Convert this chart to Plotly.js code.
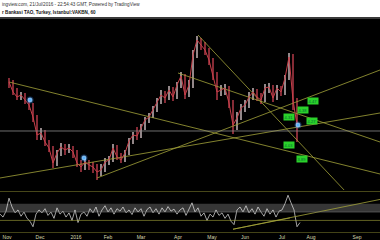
<!DOCTYPE html>
<html><head><meta charset="utf-8">
<script src="https://cdn.plot.ly/plotly-3.0.1.min.js"></script>
<style>html,body{margin:0;padding:0;background:#000;}#chart{width:380px;height:240px;}</style>
</head><body><div id="chart"></div>
<script>
// bar positions (bar index axis)
const barX = [9,13,17,21,25,29,33,37,41,45,49,53,57,61,65,69,73,77,81,85,89,93,97,101,105,109,113,117,121,125,129,133,137,141,145,149,153,157,161,165,169,173,177,181,185,189,193,197,201,205,209,213,217,221,225,229,233,237,241,245,249,253,257,261,265,269,273,277,281,285,289,293,297];
const openP = [4.68,4.66,4.56,4.51,4.53,4.48,4.43,4.31,4.13,4.15,4.06,4.00,3.85,3.95,4.01,3.98,4.00,3.96,3.85,3.81,3.86,3.83,3.81,3.76,3.78,3.86,3.88,4.00,3.91,3.88,3.95,4.07,4.13,4.12,4.20,4.28,4.31,4.38,4.46,4.53,4.50,4.58,4.51,4.63,4.72,4.53,4.63,4.93,5.08,5.03,4.98,4.88,4.73,4.56,4.58,4.60,4.45,4.23,4.30,4.40,4.43,4.51,4.56,4.51,4.48,4.60,4.61,4.50,4.60,4.56,4.70,4.91,4.48];
const closeP = [4.66,4.56,4.51,4.53,4.48,4.43,4.31,4.13,4.15,4.06,4.00,3.85,3.95,4.01,3.98,4.00,3.96,3.85,3.81,3.86,3.83,3.81,3.76,3.78,3.86,3.88,4.00,3.91,3.88,3.95,4.07,4.13,4.12,4.20,4.28,4.31,4.38,4.46,4.53,4.50,4.58,4.51,4.63,4.72,4.53,4.63,4.93,5.08,5.03,4.98,4.88,4.73,4.56,4.58,4.60,4.45,4.23,4.30,4.40,4.43,4.51,4.56,4.51,4.48,4.60,4.61,4.50,4.60,4.56,4.70,4.91,4.48,4.23];
const highP = [4.70,4.68,4.60,4.56,4.55,4.50,4.45,4.33,4.20,4.18,4.08,4.02,3.98,4.05,4.04,4.04,4.02,3.98,3.88,3.90,3.88,3.86,3.84,3.84,3.90,3.92,4.04,4.03,3.95,3.98,4.10,4.16,4.21,4.24,4.31,4.35,4.42,4.50,4.58,4.57,4.62,4.61,4.66,4.76,4.74,4.68,4.98,5.12,5.10,5.06,5.00,4.90,4.76,4.63,4.64,4.62,4.48,4.36,4.44,4.48,4.56,4.60,4.59,4.55,4.64,4.65,4.63,4.63,4.62,4.73,4.95,4.94,4.50];
const lowP = [4.60,4.53,4.48,4.48,4.44,4.38,4.26,4.08,4.08,4.02,3.96,3.80,3.82,3.92,3.93,3.95,3.90,3.81,3.76,3.78,3.78,3.75,3.68,3.72,3.76,3.83,3.86,3.88,3.85,3.86,3.93,4.04,4.08,4.10,4.18,4.25,4.30,4.36,4.44,4.45,4.48,4.47,4.49,4.60,4.49,4.51,4.60,4.90,4.98,4.93,4.83,4.68,4.48,4.52,4.53,4.40,4.14,4.18,4.28,4.36,4.40,4.48,4.47,4.44,4.46,4.55,4.46,4.48,4.52,4.53,4.68,4.38,4.06];

// RSI
const rsiX = [0,3,6,9,12,15,18,21,24,27,30,33,36,39,42,45,48,51,54,57,60,63,66,69,72,75,78,81,84,87,90,93,96,99,102,105,108,111,114,117,120,123,126,129,132,135,138,141,144,147,150,153,156,159,162,165,168,171,174,177,180,183,186,189,192,195,198,201,204,207,210,213,216,219,222,225,228,231,234,237,240,243,246,249,252,255,258,261,264,267,270,273,276,279,282,285,288,291,294,297,300];
const rsiV = [45,38,52,83,62,48,55,40,50,35,28,15,45,55,48,58,42,50,35,60,45,52,38,48,30,55,25,45,50,40,58,48,62,40,55,65,50,60,45,58,52,62,48,55,44,60,50,58,40,56,62,48,58,45,60,50,63,52,57,45,55,60,42,58,72,50,60,40,48,30,45,38,55,42,48,35,45,28,20,55,62,50,65,48,58,45,62,50,40,58,45,55,38,52,55,70,90,72,55,15,25];

// trend lines [x0,x1],[y0,y1]
const tl1X = [9,380], tl1Y = [4.66,3.74];
const tl2X = [198,345], tl2Y = [5.13,3.57];
const tl3X = [0,380], tl3Y = [3.70,4.35];
const tl4X = [97,380], tl4Y = [3.70,4.78];
const tl5X = [178,380], tl5Y = [4.75,4.06];
const rsiTl1X = [233,380], rsiTl1Y = [9,80];
const rsiTl2X = [233,290], rsiTl2Y = [9,36];

const hLevel = 4.17;
const markX = [30,84,298], markY = [4.48,3.90,4.23];
const labX = [313,303,289,312,289,302], labY = [4.47,4.38,4.31,4.27,4.03,3.89];
const labT = ['4.47','4.38','4.31','4.27','4.03','3.89'];

const tickPos = [7,40,76,108,141,178,212,245,282,311,357];
const tickTxt = ['Nov','Dec','2016','Feb','Mar','Apr','May','Jun','Jul','Aug','Sep'];

const olive = '#a3a33a';
function tl(x,y,ya){return {type:'scatter',mode:'lines',x:x,y:y,yaxis:ya,line:{color:olive,width:0.8},hoverinfo:'skip',showlegend:false,cliponaxis:true};}

const traces = [
  tl(tl1X,tl1Y,'y2'),tl(tl2X,tl2Y,'y2'),tl(tl3X,tl3Y,'y2'),tl(tl4X,tl4Y,'y2'),tl(tl5X,tl5Y,'y2'),
  {type:'scatter',mode:'lines',x:barX,y:closeP,yaxis:'y2',line:{color:'#c8404a',width:1},showlegend:false},
  {type:'ohlc',x:barX,open:openP,high:highP,low:lowP,close:closeP,yaxis:'y2',tickwidth:0,
   increasing:{line:{color:'#f6e2e4',width:1.2}},
   decreasing:{line:{color:'#e0485a',width:1.2}},showlegend:false},
  {type:'scatter',mode:'markers',x:markX,y:markY,yaxis:'y2',marker:{size:7,color:'rgba(60,150,255,0.35)'},showlegend:false},
  {type:'scatter',mode:'markers',x:markX,y:markY,yaxis:'y2',marker:{size:4,color:'#5ab4ff',line:{color:'#bfe4ff',width:0.6}},showlegend:false},
  {type:'scatter',mode:'lines',x:rsiX,y:rsiV,yaxis:'y',line:{color:'#e8e8e8',width:0.7},showlegend:false},
  tl(rsiTl1X,rsiTl1Y,'y'),tl(rsiTl2X,rsiTl2Y,'y')
];

const shapes = [
  {type:'rect',xref:'paper',yref:'paper',x0:0,x1:1,y0:1+2/214,y1:1.2,fillcolor:'#ffffff',line:{width:0},layer:'below'},
  {type:'rect',xref:'paper',yref:'paper',x0:0,x1:1,y0:1,y1:1+2/214,fillcolor:'#3a3a3a',line:{width:0}},
  {type:'line',xref:'paper',yref:'y2',x0:0,x1:1,y0:hLevel,y1:hLevel,line:{color:'#8a8a8a',width:0.8}},
  {type:'rect',xref:'paper',yref:'y',x0:0,x1:1,y0:50,y1:70,fillcolor:'#363636',line:{width:0},layer:'below'},
  {type:'line',xref:'paper',yref:'y',x0:0,x1:1,y0:100,y1:100,line:{color:olive,width:0.8}},
  {type:'line',xref:'paper',yref:'y',x0:0,x1:1,y0:50,y1:50,line:{color:'#707070',width:0.6}},
  {type:'line',xref:'paper',yref:'y',x0:0,x1:1,y0:30,y1:30,line:{color:olive,width:0.6}},
  {type:'line',xref:'paper',yref:'y',x0:0,x1:1,y0:0,y1:0,line:{color:olive,width:0.8}}
];

const annotations = [
  {xref:'paper',yref:'paper',x:0,y:1+15/214,xanchor:'left',yanchor:'middle',showarrow:false,text:'ingview.com, 21/Jul/2016 - 22:54:43 GMT, Powered by TradingView',font:{family:'Liberation Sans, Arial',size:4.6,color:'#333'}},
  {xref:'paper',yref:'paper',x:0,y:1+7/214,xanchor:'left',yanchor:'middle',showarrow:false,text:'<b>r Bankasi TAO, Turkey, Istanbul:VAKBN, 60</b>',font:{family:'Liberation Sans, Arial',size:4.6,color:'#111'}}
];
labX.forEach((x,i)=>annotations.push({x:x,y:labY[i],xref:'x',yref:'y2',showarrow:false,text:labT[i],bgcolor:'#2bd12b',borderpad:0.6,font:{family:'Liberation Sans, Arial',size:4,color:'#063'}}));

const layout = {
  width:380,height:240,margin:{l:0,r:0,t:19,b:7},
  paper_bgcolor:'#000',plot_bgcolor:'#000',showlegend:false,
  xaxis:{range:[0,380],tickvals:tickPos,ticktext:tickTxt,showgrid:false,zeroline:false,showline:false,
    ticks:'',tickfont:{family:'Liberation Sans, Arial',size:5,color:'#d8d8b0'},rangeslider:{visible:false},anchor:'y',ticklabelstandoff:0},
  yaxis:{domain:[0,0.196],range:[0,100],showgrid:false,zeroline:false,showticklabels:false,ticks:''},
  yaxis2:{domain:[0.201,1],range:[3.58,5.29],showgrid:false,zeroline:false,showticklabels:false,ticks:''},
  shapes:shapes,annotations:annotations
};
Plotly.newPlot('chart',traces,layout,{staticPlot:true,displayModeBar:false});
</script></body></html>
